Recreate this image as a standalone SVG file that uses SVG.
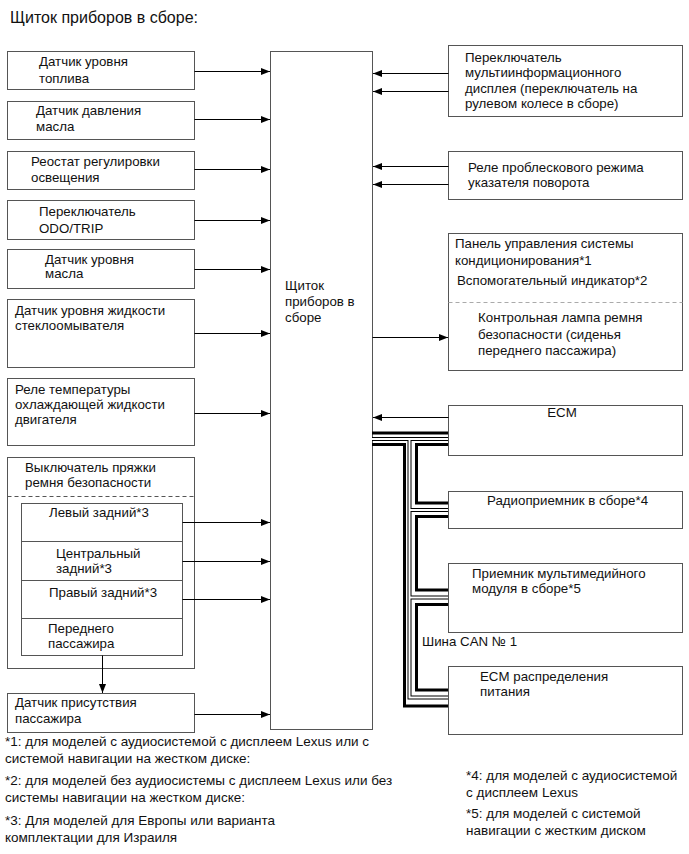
<svg xmlns="http://www.w3.org/2000/svg" width="689" height="854" viewBox="0 0 689 854">
<defs>
<marker id="ah" markerUnits="userSpaceOnUse" markerWidth="10" markerHeight="8" refX="9" refY="3.5" orient="auto">
<path d="M0,0 L9,3.5 L0,7 z" fill="#000"/>
</marker>
<style>
text{font-family:"Liberation Sans",Arial,sans-serif;font-size:13.3px;fill:#111}
.title{font-size:16px}
.note{font-size:13.5px}
.box{fill:#fff;stroke:#555;stroke-width:1}
.dash{stroke:#555;stroke-width:1;stroke-dasharray:4,3;fill:none}
.dashg{stroke:#aaa;stroke-width:1;stroke-dasharray:4,3;fill:none}
.arr{stroke:#000;stroke-width:1;fill:none;marker-end:url(#ah)}
.thick{stroke:#000;stroke-width:3;fill:none}
.case{stroke:#000;stroke-width:4;fill:none}
.core{stroke:#fff;stroke-width:2;fill:none}
</style>
</defs>
<rect width="689" height="854" fill="#fff"/>
<text class="title" x="10" y="23">Щиток приборов в сборе:</text>

<g id="center">
<rect class="box" x="270.5" y="51.5" width="102" height="678"/>
<text x="285" y="290">Щиток</text>
<text x="285" y="306">приборов в</text>
<text x="285" y="322">сборе</text>
</g>

<g id="fuel"><rect class="box" x="7.5" y="51.5" width="187" height="38"/>
<text x="39" y="66">Датчик уровня</text><text x="39" y="83">топлива</text></g>
<g id="oilpress"><rect class="box" x="7.5" y="101.5" width="187" height="38"/>
<text x="36" y="115">Датчик давления</text><text x="36" y="131">масла</text></g>
<g id="rheostat"><rect class="box" x="7.5" y="151.5" width="187" height="38"/>
<text x="31" y="166">Реостат регулировки</text><text x="31" y="182">освещения</text></g>
<g id="odotrip"><rect class="box" x="7.5" y="200.5" width="187" height="39"/>
<text x="39" y="216">Переключатель</text><text x="39" y="233">ODO/TRIP</text></g>
<g id="oillevel"><rect class="box" x="7.5" y="249.5" width="187" height="39"/>
<text x="45" y="264">Датчик уровня</text><text x="45" y="278">масла</text></g>
<g id="washer"><rect class="box" x="7.5" y="299.5" width="187" height="68"/>
<text x="15" y="315">Датчик уровня жидкости</text><text x="15" y="330">стеклоомывателя</text></g>
<g id="coolant"><rect class="box" x="7.5" y="378.5" width="187" height="67"/>
<text x="15" y="394">Реле температуры</text><text x="15" y="409">охлаждающей жидкости</text><text x="15" y="424">двигателя</text></g>
<g id="buckle">
<rect class="box" x="7.5" y="457.5" width="187" height="211"/>
<text x="25" y="472">Выключатель пряжки</text><text x="25" y="487">ремня безопасности</text>
<line class="dash" x1="7.5" y1="496.5" x2="194.5" y2="496.5"/>
<rect class="box" x="21.5" y="503.5" width="161" height="152"/>
<line x1="21.5" y1="541.5" x2="182.5" y2="541.5" stroke="#555"/>
<line x1="21.5" y1="580.5" x2="182.5" y2="580.5" stroke="#555"/>
<line x1="21.5" y1="618.5" x2="182.5" y2="618.5" stroke="#555"/>
<text x="49" y="517">Левый задний*3</text>
<text x="56" y="558">Центральный</text><text x="56" y="573">задний*3</text>
<text x="49" y="597">Правый задний*3</text>
<text x="48" y="633">Переднего</text><text x="48" y="648">пассажира</text>
</g>
<g id="occupant"><rect class="box" x="7.5" y="693.5" width="187" height="39"/>
<text x="15" y="707">Датчик присутствия</text><text x="15" y="723">пассажира</text></g>

<g id="mid"><rect class="box" x="448.5" y="45.5" width="234" height="71"/>
<text x="465" y="62">Переключатель</text><text x="465" y="77">мультиинформационного</text><text x="465" y="93">дисплея (переключатель на</text><text x="465" y="108">рулевом колесе в сборе)</text></g>
<g id="flasher"><rect class="box" x="448.5" y="151.5" width="234" height="48"/>
<text x="468" y="172">Реле проблескового режима</text><text x="468" y="187">указателя поворота</text></g>
<g id="ac"><rect class="box" x="448.5" y="233.5" width="234" height="137"/>
<text x="455" y="248">Панель управления системы</text><text x="455" y="265">кондиционирования*1</text>
<text x="457" y="285">Вспомогательный индикатор*2</text>
<line class="dashg" x1="448.5" y1="302.5" x2="682.5" y2="302.5"/>
<text x="478" y="322">Контрольная лампа ремня</text><text x="478" y="339">безопасности (сиденья</text><text x="478" y="355">переднего пассажира)</text></g>
<g id="ecm"><rect class="box" x="448.5" y="405.5" width="234" height="50"/>
<text x="562" y="417" text-anchor="middle">ECM</text></g>
<g id="radio"><rect class="box" x="448.5" y="491.5" width="234" height="37"/>
<text x="487" y="505">Радиоприемник в сборе*4</text></g>
<g id="multimedia"><rect class="box" x="448.5" y="563.5" width="234" height="69"/>
<text x="472" y="578">Приемник мультимедийного</text><text x="472" y="593">модуля в сборе*5</text></g>
<g id="pdecm"><rect class="box" x="448.5" y="666.5" width="234" height="68"/>
<text x="480" y="681">ECM распределения</text><text x="480" y="696">питания</text></g>

<g id="connectors">
<line class="arr" x1="194.5" y1="71.5" x2="270" y2="71.5"/>
<line class="arr" x1="194.5" y1="119.5" x2="270" y2="119.5"/>
<line class="arr" x1="194.5" y1="169.5" x2="270" y2="169.5"/>
<line class="arr" x1="194.5" y1="220.5" x2="270" y2="220.5"/>
<line class="arr" x1="194.5" y1="269.5" x2="270" y2="269.5"/>
<line class="arr" x1="194.5" y1="333.5" x2="270" y2="333.5"/>
<line class="arr" x1="194.5" y1="413.5" x2="270" y2="413.5"/>
<line class="arr" x1="182.5" y1="522.5" x2="270" y2="522.5"/>
<line class="arr" x1="182.5" y1="561.5" x2="270" y2="561.5"/>
<line class="arr" x1="182.5" y1="599.5" x2="270" y2="599.5"/>
<line class="arr" x1="194.5" y1="714.5" x2="270" y2="714.5"/>
<line class="arr" x1="102.5" y1="655.5" x2="102.5" y2="693"/>
<line class="arr" x1="448.5" y1="73.5" x2="373" y2="73.5"/>
<line class="arr" x1="448.5" y1="91.5" x2="373" y2="91.5"/>
<line class="arr" x1="448.5" y1="166.5" x2="373" y2="166.5"/>
<line class="arr" x1="448.5" y1="184.5" x2="373" y2="184.5"/>
<line class="arr" x1="372.5" y1="337.5" x2="448" y2="337.5"/>
<line class="arr" x1="448.5" y1="417.5" x2="373" y2="417.5"/>
<g id="can">
<path class="thick" d="M372,433 H448"/>
<path class="thick" d="M372,444.5 H404.5 V706 H448"/>
<path class="thick" d="M448,444.5 H416.5 V503 H448"/>
<path class="thick" d="M448,516.5 H416.5 V590 H448"/>
<path class="thick" d="M448,604.5 H416.5 V690 H448"/>
<path class="case" d="M372,439 H448 M409.5,439 V697.5 H448 M409.5,510 H448 M409.5,597.5 H448"/>
<path class="core" d="M372,439 H448 M409.5,439 V697.5 H448 M409.5,510 H448 M409.5,597.5 H448"/>
</g>
</g>
<text x="422" y="646">Шина CAN № 1</text>

<g id="notes">
<text class="note" x="5" y="746">*1: для моделей с аудиосистемой с дисплеем Lexus или с</text>
<text class="note" x="5" y="763">системой навигации на жестком диске:</text>
<text class="note" x="5" y="785">*2: для моделей без аудиосистемы с дисплеем Lexus или без</text>
<text class="note" x="5" y="802">системы навигации на жестком диске:</text>
<text class="note" x="5" y="825">*3: Для моделей для Европы или варианта</text>
<text class="note" x="5" y="842">комплектации для Израиля</text>
<text class="note" x="466" y="780">*4: для моделей с аудиосистемой</text>
<text class="note" x="466" y="797">с дисплеем Lexus</text>
<text class="note" x="466" y="818">*5: для моделей с системой</text>
<text class="note" x="466" y="835">навигации с жестким диском</text>
</g>
</svg>
